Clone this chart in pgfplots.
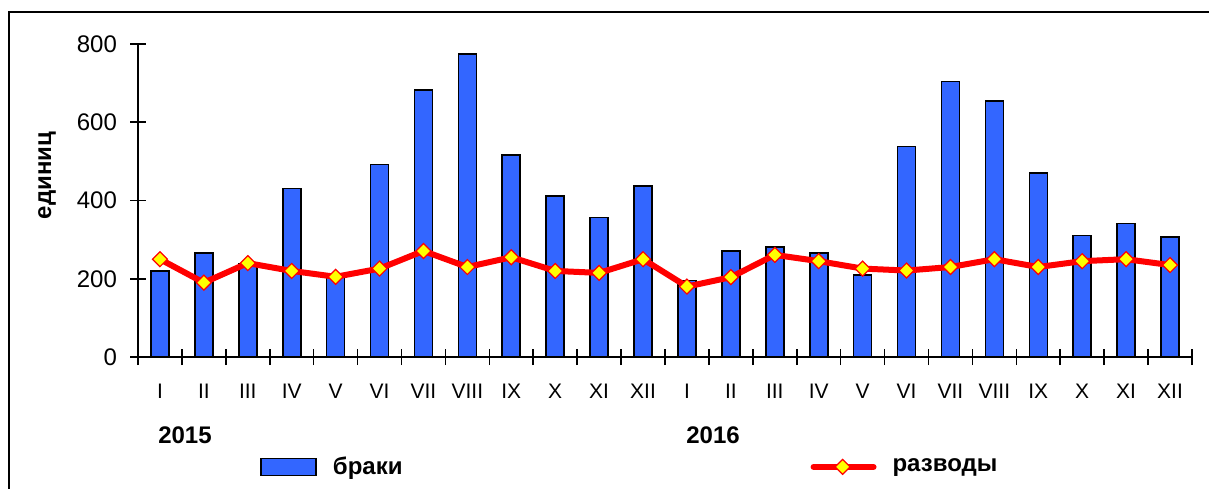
\documentclass[border=0pt]{standalone}
\usepackage{pgfplots}
\pgfplotsset{compat=1.18}
\usepackage{fontspec}
\setmainfont{Liberation Sans}
\definecolor{barblue}{HTML}{3366FF}
\definecolor{lnred}{HTML}{FF0000}
\definecolor{mkyel}{HTML}{FFFF00}
\begin{document}
\begin{tikzpicture}[x=1pt,y=1pt]
\useasboundingbox (0,0) rectangle (604.5,244);
\draw[line width=0.8pt] (4.5,-2) -- (4.5,238) -- (610,238);
\begin{axis}[
  at={(69pt,65.5pt)}, anchor=south west,
  scale only axis, width=527pt, height=156.5pt,
  xmin=-0.5, xmax=23.5, ymin=0, ymax=800,
  axis lines=left, axis line style={-, line width=0.8pt},
  tick align=center, major tick length=8pt,
  tick style={black, line width=0.8pt},
  ytick={0,200,...,800},
  yticklabel style={font=\fontsize{12}{14}\selectfont, anchor=east, xshift=-3pt},
  /pgf/number format/assume math mode=true,
  xtick={-0.5,0.5,...,23.5}, xticklabels={},
  extra x ticks={0,...,23},
  extra x tick labels={I,II,III,IV,V,VI,VII,VIII,IX,X,XI,XII,I,II,III,IV,V,VI,VII,VIII,IX,X,XI,XII},
  extra x tick style={major tick length=0pt, xticklabel style={font=\fontsize{10.5}{12}\selectfont, anchor=center, yshift=-17pt}},
  ylabel={\bfseries единиц},
  every axis y label/.style={at={(axis description cs:0,0.58)}, xshift=-45.5pt, rotate=90, anchor=center, font=\fontsize{12}{14}\selectfont},
  clip=false,
  legend columns=2,
  legend style={at={(axis description cs:0.1157,-0.351)}, anchor=west, draw=none, fill=none, inner sep=0pt,
    font=\fontsize{12}{14}\selectfont\bfseries,
    /tikz/every odd column/.append style={column sep=6pt},
    /tikz/every even column/.append style={column sep=202pt}},
]
\addplot[ybar, bar width=9pt, fill=barblue, draw=black, line width=0.8pt,
  legend image code/.code={\draw[fill=barblue, draw=black, line width=0.8pt] (0pt,-4.25pt) rectangle (27.5pt,4.25pt);}]
  coordinates {(0,220) (1,266) (2,238) (3,431) (4,206) (5,492) (6,683) (7,774) (8,517) (9,411) (10,357) (11,437)
  (12,196) (13,271) (14,281) (15,266) (16,210) (17,538) (18,704) (19,654) (20,471) (21,311) (22,341) (23,306)};
\addlegendentry{браки}
\addplot[lnred, line width=3pt, mark=square*, mark size=2.65pt,
  mark options={rotate=45, fill=mkyel, draw=lnred, line width=0.6pt},
  legend image code/.code={\draw[lnred, line width=3pt, line cap=round] (0pt,0pt) -- (30pt,0pt);
     \draw[fill=mkyel, draw=lnred, line width=0.6pt] (14.5pt,-3.75pt) -- (18.25pt,0pt) -- (14.5pt,3.75pt) -- (10.75pt,0pt) -- cycle;}]
  coordinates {(0,250) (1,190) (2,240) (3,220) (4,205) (5,226) (6,271) (7,230) (8,255) (9,220) (10,215) (11,250)
  (12,180) (13,204) (14,261) (15,245) (16,226) (17,221) (18,230) (19,250) (20,230) (21,245) (22,250) (23,235)};
\addlegendentry{разводы}
\end{axis}
\node[font=\fontsize{12}{14}\selectfont\bfseries] at (92.5,26.5) {2015};
\node[font=\fontsize{12}{14}\selectfont\bfseries] at (356.5,26.5) {2016};
\end{tikzpicture}
\end{document}
